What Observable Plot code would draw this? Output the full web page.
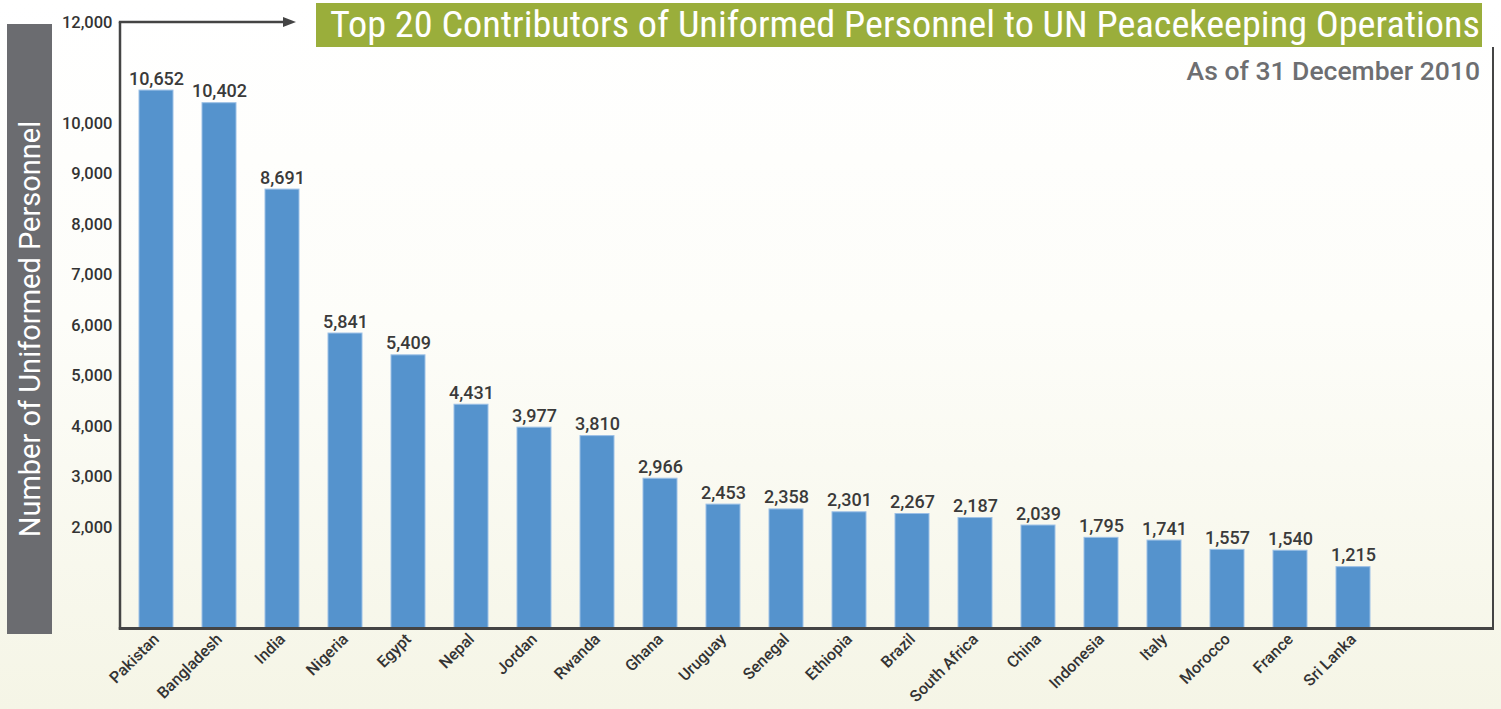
<!DOCTYPE html>
<html>
<head>
<meta charset="utf-8">
<script src="https://cdn.jsdelivr.net/npm/d3@7"></script>
<script src="https://cdn.jsdelivr.net/npm/@observablehq/plot@0.6"></script>
<style>
  html, body { margin: 0; padding: 0; }
  body {
    width: 1501px; height: 709px; overflow: hidden;
    background: linear-gradient(to bottom, #ffffff 0%, #fdfdf9 45%, #f5f5e6 100%);
    font-family: Roboto, "Liberation Sans", sans-serif;
  }
  #wrap { position: relative; width: 1501px; height: 709px; }
  #title {
    position: absolute; left: 316px; top: 3px; width: 1166px; height: 44px;
    background: #9aae3b; color: #fff; font-size: 36px; line-height: 44px;
    white-space: nowrap; overflow: hidden;
    font-family: "Roboto Condensed", Roboto, sans-serif;
  }
  #title span { display: inline-block; margin-left: 14px; transform-origin: left center; }
  #subtitle {
    position: absolute; right: 21px; top: 55px; color: #6d6e71;
    font-size: 26.5px; font-weight: 500; line-height: 32px; white-space: nowrap;
  }
  #ylab {
    position: absolute; left: 7px; top: 24px; width: 45px; height: 610px;
    background: #6b6c70;
  }
  #ylab span {
    position: absolute; left: 50%; top: 50%; color: #fff; font-size: 29px;
    white-space: nowrap; transform: translate(-50%, -50%) rotate(-90deg);
  }
  #chart { position: absolute; left: 0; top: 0; }
</style>
</head>
<body>
<div id="wrap">
  <div id="chart"></div>
  <div id="ylab"><span>Number of Uniformed Personnel</span></div>
  <div id="title"><span>Top 20 Contributors of Uniformed Personnel to UN Peacekeeping Operations</span></div>
  <div id="subtitle">As of 31 December 2010</div>
</div>
<script>
const countries = ["Pakistan", "Bangladesh", "India", "Nigeria", "Egypt", "Nepal", "Jordan", "Rwanda", "Ghana", "Uruguay", "Senegal", "Ethiopia", "Brazil", "South Africa", "China", "Indonesia", "Italy", "Morocco", "France", "Sri Lanka"];
const personnel = [10652, 10402, 8691, 5841, 5409, 4431, 3977, 3810, 2966, 2453, 2358, 2301, 2267, 2187, 2039, 1795, 1741, 1557, 1540, 1215];
const yTicks = [2000, 3000, 4000, 5000, 6000, 7000, 8000, 9000, 10000, 12000];

const data = countries.map((c, i) => ({country: c, value: personnel[i]}));
const fmt = d3.format(",");
const font = 'Roboto, "Liberation Sans", sans-serif';

const plot = Plot.plot({
  width: 1501,
  height: 709,
  marginLeft: 120,
  marginRight: 113,
  marginTop: 22,
  marginBottom: 81,
  style: {background: "transparent", fontFamily: font, color: "#333"},
  x: {domain: countries, paddingInner: 0.465, paddingOuter: 0.22, label: null},
  y: {domain: [0, 12000], label: null},
  marks: [
    Plot.barY(data, {x: "country", y: "value", fill: "#5593cd", stroke: "#9cc0e6", strokeWidth: 1}),
    Plot.text(data, {x: "country", y: "value", text: d => fmt(d.value), lineAnchor: "bottom", dy: -6,
      fontSize: 18, fontWeight: 500, fill: "#3a3a3a"}),
    Plot.axisY({ticks: yTicks, tickFormat: fmt, tickSize: 0, tickPadding: 8, fontSize: 16.5, fontWeight: 500, fill: "#333", label: null}),
    Plot.axisX({tickRotate: -45, tickSize: 0, tickPadding: 8, fontSize: 16, fontWeight: 500, fill: "#333", label: null})
  ]
});

document.getElementById("chart").appendChild(plot);

// frame decorations tied to the scales
const svg = d3.select(plot);
const y0 = plot.scale("y").apply(0);
const yTop = plot.scale("y").apply(12000);
const xL = 120, xR = 1493;
const g = svg.append("g").attr("fill", "none").attr("stroke", "#444");
g.append("line").attr("x1", xL).attr("x2", xL).attr("y1", yTop).attr("y2", y0 + 1.5).attr("stroke-width", 2.5);
g.append("line").attr("x1", xL - 1.2).attr("x2", 284).attr("y1", yTop).attr("y2", yTop).attr("stroke-width", 2.5);
svg.append("path").attr("d", `M283,${yTop - 5}L296,${yTop}L283,${yTop + 5}Z`).attr("fill", "#444");
g.append("line").attr("x1", xL - 1.2).attr("x2", xR + 1).attr("y1", y0 + 0.5).attr("y2", y0 + 0.5).attr("stroke-width", 3);
g.append("line").attr("x1", xR).attr("x2", xR).attr("y1", 47).attr("y2", y0 + 2).attr("stroke-width", 2);

// fit the title text to the green box
const tspan = document.querySelector("#title span");
const w = tspan.getBoundingClientRect().width;
tspan.style.transform = `scaleX(${1150 / w})`;
</script>
</body>
</html>
